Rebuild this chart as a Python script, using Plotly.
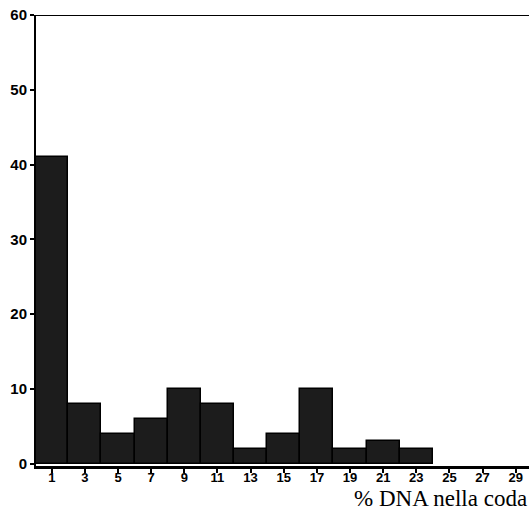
import plotly.graph_objects as go

bin_centers = [1, 3, 5, 7, 9, 11, 13, 15, 17, 19, 21, 23]
percent_cells = [41, 8, 4, 6, 10, 8, 2, 4, 10, 2, 3, 2]
x_ticks = list(range(1, 30, 2))
y_ticks = [0, 10, 20, 30, 40, 50, 60]
x_title = "% DNA nella coda"

fig = go.Figure()
fig.add_trace(go.Bar(
    x=bin_centers, y=percent_cells, width=2,
    marker=dict(color="#1c1c1c", line=dict(color="#000000", width=1.5)),
))

fig.update_layout(
    width=529, height=526,
    margin=dict(l=36, r=0, t=15, b=60),
    paper_bgcolor="white", plot_bgcolor="white",
    showlegend=False, bargap=0,
    xaxis=dict(range=[0.05, 29.8], tickvals=x_ticks, ticktext=[str(v) for v in x_ticks],
               showgrid=False, zeroline=False, showline=True, linecolor="black", linewidth=2.5,
               ticks="outside", ticklen=4, tickwidth=1.5, tickcolor="black",
               ticklabelstandoff=-6,
               tickfont=dict(family="Liberation Sans", size=13, color="black", weight="bold")),
    yaxis=dict(range=[-0.3, 60], tickvals=y_ticks,
               showgrid=False, zeroline=False, showline=True, linecolor="black", linewidth=2,
               ticks="outside", ticklen=4, tickwidth=1.5, tickcolor="black",
               tickfont=dict(family="Liberation Sans", size=15, color="black", weight="bold"),
               mirror=False),
    shapes=[dict(type="line", xref="paper", yref="y", x0=0, x1=1, y0=60, y1=60,
                 line=dict(color="black", width=2))],
    annotations=[dict(text=x_title, xref="paper", yref="paper", x=1.0, y=-0.072,
                      xanchor="right", yanchor="middle", showarrow=False,
                      font=dict(family="Liberation Serif", size=23, color="black"))],
)

fig.write_html("out.html", config={"displayModeBar": False},
               post_script="document.body.style.margin='0';document.body.style.overflow='hidden';")
